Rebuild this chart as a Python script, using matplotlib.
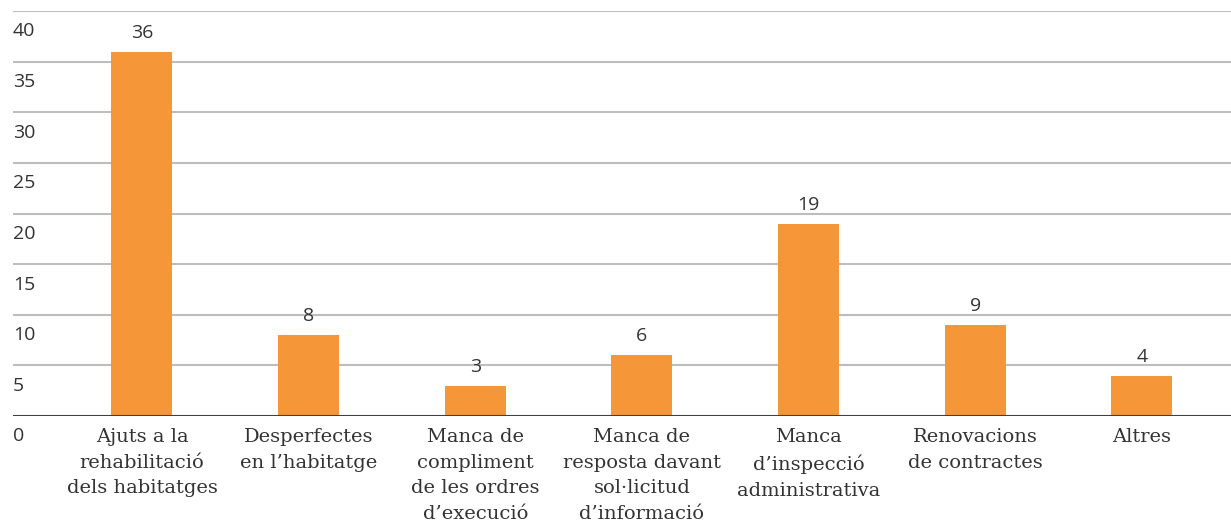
import matplotlib.pyplot as plt
import matplotlib.transforms as mtransforms
import numpy as np

categories = ["Ajuts a la\nrehabilitació\ndels habitatges",
              "Desperfectes\nen l’habitatge",
              "Manca de\ncompliment\nde les ordres\nd’execució",
              "Manca de\nresposta davant\nsol·licitud\nd’informació",
              "Manca\nd’inspecció\nadministrativa",
              "Renovacions\nde contractes",
              "Altres"]
values = [36, 8, 3, 6, 19, 9, 4]
y_ticks = [0, 5, 10, 15, 20, 25, 30, 35, 40]

bar_color = "#F59638"
text_color = "#333333"

fig = plt.figure(figsize=(12.31, 5.24), dpi=100)
ax = fig.add_axes([13 / 1231, 1 - 416 / 524, 1 - 13 / 1231, 405 / 524])

x = np.arange(len(categories))
ax.bar(x, values, width=0.366, color=bar_color, zorder=3)

for xi, v in zip(x, values):
    ax.annotate(str(v), (xi, v), xytext=(0, 10), textcoords="offset points",
                ha="center", va="baseline", fontsize=14, color=text_color,
                family="Open Sans")

ax.set_xlim(-0.774, 6.535)
ax.set_ylim(0, 40)

# gridlines
for t in y_ticks[1:]:
    ax.axhline(t, color="#BDBDBD", lw=1.5, zorder=1)
ax.axhline(0, color="#404040", lw=1.5, zorder=4)

# y labels sit just under each gridline
trans = mtransforms.blended_transform_factory(ax.transAxes, ax.transData)
offset = mtransforms.ScaledTranslation(0, -8.2 / 72, fig.dpi_scale_trans)
for t in y_ticks:
    ax.text(0.0, t, str(t), transform=trans + offset, ha="left", va="top",
            fontsize=14, color=text_color, family="Open Sans")

ax.set_xticks(x)
ax.set_xticklabels(categories, fontsize=14, color=text_color,
                   family="DejaVu Serif", linespacing=1.56)
ax.tick_params(axis="x", length=0, pad=8.5)
ax.set_yticks([])

for s in ax.spines.values():
    s.set_visible(False)

fig.savefig("out.png", dpi=100)
